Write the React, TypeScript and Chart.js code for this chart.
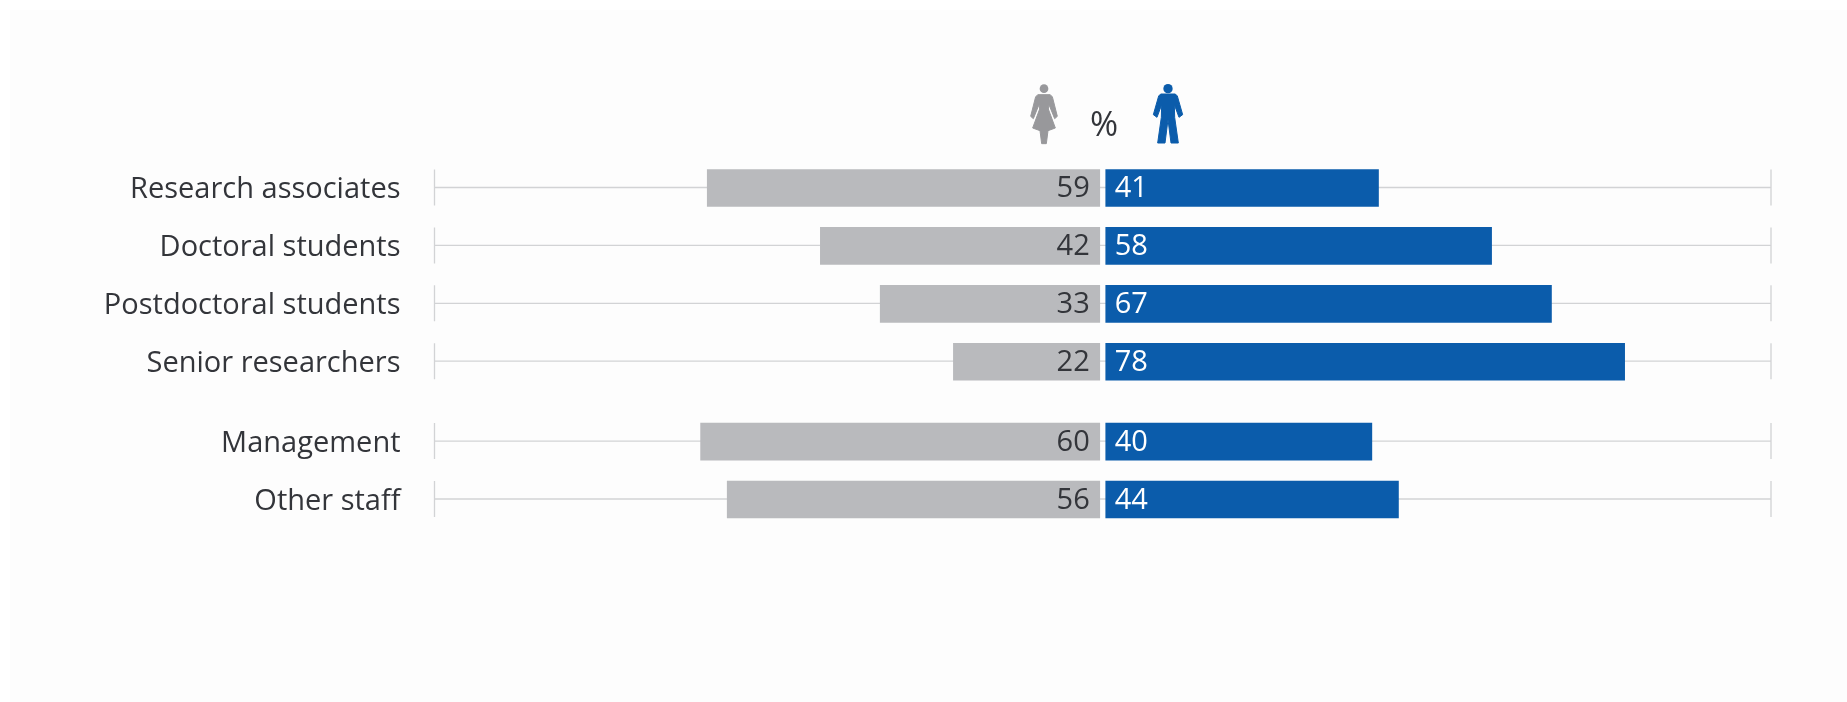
import React, { useEffect, useRef } from "react";
import { Chart, registerables } from "chart.js";

Chart.register(...registerables);

const categories = ["Research associates", "Doctoral students", "Postdoctoral students", "Senior researchers", "Management", "Other staff"];
const women = [59, 42, 33, 22, 60, 56];
const men = [41, 58, 67, 78, 40, 44];
const rows = [0, 1, 2, 3, 4.38, 5.38];

const GREY = "#b9babd";
const BLUE = "#0b5cab";
const TEXT = "#33353a";
const FONT = "'Open Sans', Lato, sans-serif";
const Y_MIN = -3.247;
const Y_MAX = 8.877;
const LABEL_SHIFT = 0.03;

const womanBody: number[][] = [[-18, 32], [18, 32], [25, 38], [40, 97], [32, 104], [15, 62], [13, 75], [34, 132], [12, 140], [7, 179], [-7, 179], [-12, 140], [-34, 132], [-13, 75], [-15, 62], [-32, 104], [-40, 97], [-25, 38]];
const manBody: number[][] = [[-22, 30], [22, 30], [28, 36], [44, 92], [33, 100], [19, 62], [20, 100], [31, 177], [9, 177], [0, 107], [-9, 177], [-31, 177], [-20, 100], [-19, 62], [-33, 100], [-44, 92], [-28, 36]];

function drawPerson(ctx: CanvasRenderingContext2D, cx: number, top: number, body: number[][], headR: number, color: string) {
  ctx.save();
  ctx.translate(cx, top);
  ctx.scale(1 / 3, 1 / 3);
  ctx.fillStyle = color;
  ctx.strokeStyle = color;
  ctx.lineWidth = 3;
  ctx.lineJoin = "round";
  ctx.beginPath();
  ctx.arc(0, 14, headR, 0, Math.PI * 2);
  ctx.fill();
  ctx.beginPath();
  body.forEach(([x, y], i) => (i ? ctx.lineTo(x, y) : ctx.moveTo(x, y)));
  ctx.closePath();
  ctx.fill();
  ctx.stroke();
  ctx.restore();
}

const rangeLines = {
  id: "rangeLines",
  beforeDatasetsDraw(chart: any) {
    const { ctx, scales } = chart;
    const left = scales.xF.getPixelForValue(100);
    const right = scales.xM.getPixelForValue(100);
    ctx.save();
    ctx.strokeStyle = "#d2d3d5";
    ctx.lineWidth = 1.3;
    rows.forEach((r) => {
      const y = scales.y.getPixelForValue(r) - 0.5;
      ctx.beginPath();
      ctx.moveTo(left, y);
      ctx.lineTo(right, y);
      ctx.moveTo(left, y - 18);
      ctx.lineTo(left, y + 18);
      ctx.moveTo(right, y - 18);
      ctx.lineTo(right, y + 18);
      ctx.stroke();
    });
    ctx.restore();
  },
};

const decorations = {
  id: "decorations",
  afterDatasetsDraw(chart: any) {
    const { ctx } = chart;
    ctx.save();
    ctx.font = `29px ${FONT}`;
    ctx.textBaseline = "middle";
    chart.getDatasetMeta(0).data.forEach((bar: any, i: number) => {
      ctx.fillStyle = TEXT;
      ctx.textAlign = "right";
      ctx.fillText(String(women[i]), bar.base - 10, bar.y + 1);
    });
    chart.getDatasetMeta(1).data.forEach((bar: any, i: number) => {
      ctx.fillStyle = "#ffffff";
      ctx.textAlign = "left";
      ctx.fillText(String(men[i]), bar.base + 9, bar.y + 1);
    });
    ctx.fillStyle = TEXT;
    ctx.textAlign = "center";
    ctx.font = `34px ${FONT}`;
    ctx.fillText("%", 1104, 126);
    ctx.restore();
    drawPerson(ctx, 1044, 84, womanBody, 13, "#98989b");
    drawPerson(ctx, 1168, 84, manBody, 14, BLUE);
  },
};

export default function App() {
  const ref = useRef<HTMLCanvasElement>(null);
  useEffect(() => {
    document.body.style.margin = "0";
    document.body.style.background = "#ffffff";
    const chart = new Chart(ref.current!, {
      type: "bar",
      data: {
        datasets: [
          { label: "Women", data: rows.map((y, i) => ({ x: women[i], y })), xAxisID: "xF", yAxisID: "y", backgroundColor: GREY, barThickness: 37, grouped: false } as any,
          { label: "Men", data: rows.map((y, i) => ({ x: men[i], y })), xAxisID: "xM", yAxisID: "y", backgroundColor: BLUE, barThickness: 37, grouped: false } as any,
        ],
      },
      options: {
        indexAxis: "y",
        animation: false,
        responsive: false,
        layout: { padding: { left: 0, right: 76, top: 0, bottom: 0 } },
        plugins: { legend: { display: false }, tooltip: { enabled: false } },
        scales: {
          xF: { type: "linear", display: false, reverse: true, min: -100.9, max: 100 },
          xM: { type: "linear", display: false, min: -100.9, max: 100 },
          y: { type: "linear", display: false, reverse: true, offset: false, min: Y_MIN, max: Y_MAX },
          yLabels: {
            type: "linear",
            position: "left",
            reverse: true,
            offset: false,
            min: Y_MIN - LABEL_SHIFT,
            max: Y_MAX - LABEL_SHIFT,
            border: { display: false },
            grid: { display: false, drawTicks: false, offset: false },
            afterFit: (axis: any) => {
              axis.width = 434.5;
              axis.paddingTop = 0;
              axis.paddingBottom = 0;
            },
            afterBuildTicks: (axis: any) => { axis.ticks = rows.map((value) => ({ value })); },
            ticks: {
              autoSkip: false,
              padding: 34,
              color: TEXT,
              font: { family: FONT, size: 29 },
              callback: (value: any) => categories[rows.indexOf(Number(value))],
            },
          },
        },
      } as any,
      plugins: [rangeLines, decorations],
    });
    return () => chart.destroy();
  }, []);
  return (
    <div style={{ position: "absolute", left: 0, top: 0, width: 1847, height: 702, background: "#ffffff" }}>
      <div style={{ position: "absolute", left: 10, top: 10, right: 0, bottom: 0, background: "#fdfdfd" }} />
      <canvas ref={ref} width={1847} height={702} style={{ display: "block", position: "relative" }} />
    </div>
  );
}
